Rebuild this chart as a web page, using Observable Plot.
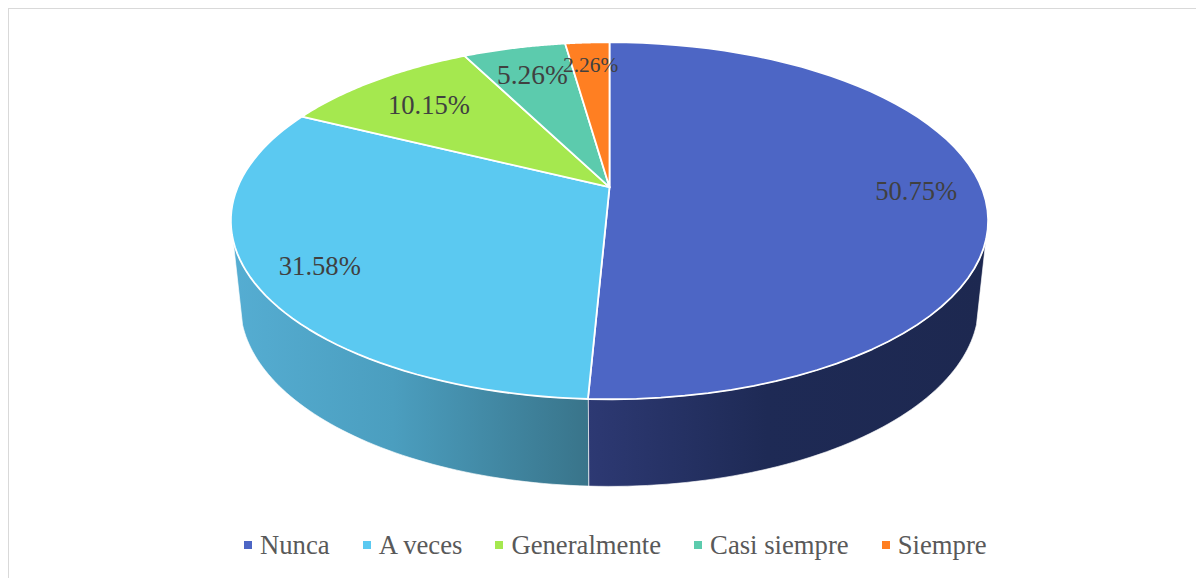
<!DOCTYPE html>
<html><head><meta charset="utf-8">
<script src="https://cdn.jsdelivr.net/npm/d3@7"></script>
<script src="https://cdn.jsdelivr.net/npm/@observablehq/plot@0.6"></script>
<style>
html,body{margin:0;padding:0;background:#fff;overflow:hidden}
#frame{position:relative;width:1196px;height:578px;overflow:hidden}
#frame:before{content:"";position:absolute;left:8px;top:8px;right:-4px;bottom:-4px;border:1px solid #d9d9d9;border-width:1px 0 0 1px;pointer-events:none}
#chart{position:absolute;left:0;top:0}
#chart svg{display:block;background:transparent}
#legend{position:absolute;left:244px;top:525px;height:40px;display:flex;align-items:center;font:26.7px "Liberation Serif",serif;color:#595959;white-space:nowrap}
#legend .it{display:flex;align-items:center;margin-right:33px}
#legend i{display:block;width:8px;height:8px;margin-right:8px}
</style></head><body>
<div id="frame"><div id="chart"></div><div id="legend"></div></div>
<script>
const categories = ["Nunca","A veces","Generalmente","Casi siempre","Siempre"];
const values = [50.75,31.58,10.15,5.26,2.26];
const valueLabels = ["50.75%","31.58%","10.15%","5.26%","2.26%"];
const colors = ["#4d66c5","#5bc9f1","#a5e84f","#5ccbad","#ff7f22"];
const labelRadius = [0.822,0.832,0.75,0.782,0.827];
const labelSize = [26.6,26.6,26.6,27.4,21.4];

// perspective disc: a top face and a lower face
const k = 0.188;
const lowerScaleX = 0.975, lowerScaleY = 1.017, lowerShift = -0.485;
const total = d3.sum(values);
const tilt = (t, r=1) => {
  const u = r*Math.sin(t), v = r*Math.cos(t), w = 1 + k*v;
  return {x:u/w, y:v/w};
};
const lower = t => {
  const p = tilt(t);
  return {x:p.x*lowerScaleX, y:p.y*lowerScaleY + lowerShift};
};
let acc = 0;
const slices = values.map((v,i) => {
  const a0 = acc/total*2*Math.PI; acc += v;
  const a1 = acc/total*2*Math.PI;
  return {name:categories[i], a0, a1, mid:(a0+a1)/2, i};
});
const arc = (a0,a1) => d3.range(0,61).map(j => a0+(a1-a0)*j/60);

const topPts = slices.flatMap(s => [
  {x:0,y:0,name:s.name},
  ...arc(s.a0,s.a1).map(t => ({...tilt(t),name:s.name}))
]);
const sideStart = 107*Math.PI/180, sideEnd = 253*Math.PI/180;
const sideRanges = [
  {name:"Nunca",fill:"url(#sideNunca)",a0:sideStart,a1:slices[0].a1},
  {name:"A veces",fill:"url(#sideAVeces)",a0:slices[0].a1,a1:sideEnd}
];
const sidePts = sideRanges.flatMap(s => {
  const ts = arc(s.a0,s.a1);
  return [...ts.map(t => ({...tilt(t),name:s.name,fill:s.fill})),
          ...ts.slice().reverse().map(t => ({...lower(t),name:s.name,fill:s.fill}))];
});
const labels = slices.map(s => ({...tilt(s.mid,labelRadius[s.i]),text:valueLabels[s.i],size:labelSize[s.i]}));

const defs = () => {
  const g = d3.create("svg:defs");
  const grad = (id,stops) => {
    const lg = g.append("linearGradient").attr("id",id).attr("x1",0).attr("x2",1).attr("y1",0).attr("y2",0);
    stops.forEach(([o,c]) => lg.append("stop").attr("offset",o).attr("stop-color",c));
  };
  grad("sideAVeces",[[0,"#55add2"],[0.45,"#4b9ebf"],[1,"#39748a"]]);
  grad("sideNunca",[[0,"#2d3973"],[0.45,"#1e2a55"],[1,"#1d2850"]]);
  return g.node();
};

const plot = Plot.plot({
  width:1196, height:525, margin:0,
  x:{domain:[-1,1], range:[609-371.9,609+371.9], axis:null},
  y:{domain:[-1,1], range:[186.7+172.2,186.7-172.2], axis:null},
  color:{domain:categories, range:colors},
  marks:[
    defs,
    Plot.line(sidePts,{x:"x",y:"y",z:"name",fill:"fill",stroke:"#ffffff",strokeWidth:0.8,strokeOpacity:0.8,curve:"linear-closed"}),
    Plot.line(topPts,{x:"x",y:"y",z:"name",fill:d => colors[categories.indexOf(d.name)],stroke:"#ffffff",strokeWidth:1.8,curve:"linear-closed"}),
    Plot.text(labels,{x:"x",y:"y",dy:0.8,text:"text",fontSize:"size",fontFamily:"Liberation Serif",fill:"#404040"})
  ]
});
document.getElementById("chart").append(plot);
const lg = d3.select("#legend");
categories.forEach((c,i) => {
  const it = lg.append("span").attr("class","it");
  it.append("i").style("background",colors[i]);
  it.append("span").text(c);
});
</script>
</body></html>
